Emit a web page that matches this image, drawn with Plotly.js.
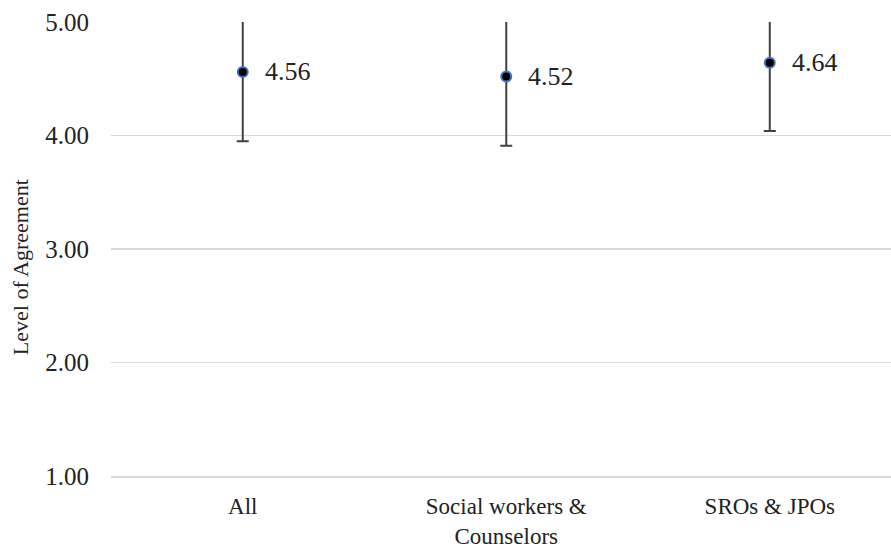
<!DOCTYPE html>
<html>
<head>
<meta charset="utf-8">
<script src="https://cdn.plot.ly/plotly-3.0.1.min.js"></script>
<style>html,body{margin:0;padding:0;background:#fff;}#chart{width:891px;height:550px;}</style>
</head>
<body>
<div id="chart"></div>
<script>
const categories = ["All", "Social workers &<br>Counselors", "SROs & JPOs"];
const means = [4.56, 4.52, 4.64];
const sds = [0.61, 0.61, 0.60];
const tickVals = [1, 2, 3, 4, 5];
const tickText = ["1.00", "2.00", "3.00", "4.00", "5.00"];
const yTitle = "Level of Agreement";
const catIndex = categories.map((c, i) => i);

const font = "Times New Roman, Liberation Serif, serif";

const trace = {
  type: "scatter",
  mode: "markers",
  x: catIndex,
  y: means,
  marker: {color: "#000000", size: 10, line: {color: "#4472C4", width: 2}},
  error_y: {type: "data", array: sds, visible: true, color: "#404040", thickness: 2, width: 6},
  cliponaxis: true,
  hoverinfo: "none"
};

const annotations = means.map((m, i) => ({
  x: i, y: m, xref: "x", yref: "y",
  text: m.toFixed(2), showarrow: false,
  xanchor: "left", yanchor: "middle", xshift: 20,
  font: {family: font, size: 26, color: "#222222"}
}));
annotations.push({
  xref: "paper", yref: "paper", x: -0.1167, y: 0.46,
  xanchor: "center", yanchor: "middle", textangle: -90,
  text: yTitle, showarrow: false,
  font: {family: font, size: 22, color: "#222222"}
});

const layout = {
  width: 891, height: 550,
  margin: {l: 111, r: 0, t: 22, b: 74},
  paper_bgcolor: "#ffffff", plot_bgcolor: "#ffffff",
  font: {family: font, color: "#222222"},
  showlegend: false,
  xaxis: {
    range: [-0.5, 2.46],
    tickvals: catIndex, ticktext: categories,
    showgrid: false, zeroline: false, automargin: false,
    showline: true, linecolor: "#d9d9d9", linewidth: 1.5,
    ticks: "", ticklabelstandoff: 9,
    tickfont: {family: font, size: 23, color: "#222222"}
  },
  yaxis: {
    range: [1, 5],
    tickvals: tickVals, ticktext: tickText,
    showgrid: true, gridcolor: "#d9d9d9", gridwidth: 1.5,
    zeroline: false, showline: false, ticks: "", automargin: false,
    ticklabelstandoff: 21,
    tickfont: {family: font, size: 25, color: "#222222"}
  },
  annotations: annotations
};

Plotly.newPlot("chart", [trace], layout, {displayModeBar: false, staticPlot: true});
</script>
</body>
</html>
